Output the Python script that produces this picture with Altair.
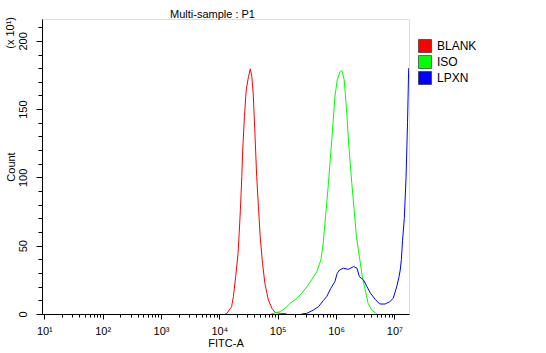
import altair as alt
import pandas as pd

# ---- data (x as log10 exponent of FITC-A, y as count /10) ----
series_names = ["BLANK", "ISO", "LPXN"]
series_colors = ["#ff0000", "#00ff00", "#0000ff"]

blank_exp = [4.10, 4.13, 4.21, 4.24, 4.28, 4.32, 4.34, 4.36, 4.385, 4.40, 4.43, 4.46, 4.50,
             4.53, 4.556, 4.58, 4.61, 4.64, 4.67, 4.70, 4.74, 4.78, 4.84, 4.90, 4.955, 5.04,
             5.13, 5.16]
blank_count = [0, 0.5, 5.4, 12.7, 27.4, 44.4, 59, 76, 100.6, 120, 144.5, 164, 174,
               179.5, 174, 161.7, 132, 100.6, 78.6, 56.6, 37, 22.5, 10.3, 4.2, 1.2, 0.5,
               0.3, 0]

iso_exp = [4.88, 4.95, 5.04, 5.13, 5.21, 5.33, 5.41, 5.50, 5.58, 5.67, 5.74, 5.78, 5.82,
           5.86, 5.90, 5.94, 5.98, 6.02, 6.07, 6.10, 6.14, 6.18, 6.22, 6.27, 6.31, 6.35,
           6.40, 6.45, 6.50, 6.55, 6.61, 6.70]
iso_count = [0, 0.8, 1.7, 4.2, 7.8, 11.5, 15.2, 20, 25, 31, 39.6, 51.8, 71.3,
             90.8, 112.8, 134.8, 159, 171.4, 177.5, 178.3, 171.4, 149.5, 122.6, 95.7, 76.2, 56.6,
             42, 27.3, 17.6, 7.8, 2.9, 0]

lpxn_exp = [5.41, 5.50, 5.61, 5.70, 5.78, 5.84, 5.91, 5.98, 6.02, 6.06, 6.125, 6.21, 6.30,
            6.36, 6.40, 6.47, 6.53, 6.59, 6.67, 6.75, 6.84, 6.92, 6.98, 7.04, 7.08, 7.10,
            7.12, 7.14, 7.17, 7.20, 7.225, 7.245]
lpxn_count = [0, 0.5, 2.9, 5.4, 9.8, 12.7, 18.8, 23.7, 29.8, 32.2, 33.5, 32.7, 34.7,
              33.5, 27.3, 25, 20, 15.2, 10.8, 7.3, 7.3, 9, 11.5, 20, 27.3, 32.2,
              40, 54, 70, 100, 140, 180]

x_major = [10, 100, 1000, 10000, 100000, 1000000, 10000000]
x_major_labels = ["10\u00b9", "10\u00b2", "10\u00b3", "10\u2074", "10\u2075", "10\u2076", "10\u2077"]
x_minor = [k * m for m in x_major[:-1] for k in range(2, 10)]
y_major = [0, 50, 100, 150, 200]
y_minor = list(range(0, 220, 10))

rows = []
for name, ex, ct in [("BLANK", blank_exp, blank_count), ("ISO", iso_exp, iso_count),
                     ("LPXN", lpxn_exp, lpxn_count)]:
    for e, c in zip(ex, ct):
        rows.append({"series": name, "fitc": 10 ** e, "count": c})
df = pd.DataFrame(rows)

FONT = "Liberation Sans"

x_label_expr = ""
for v, lab in zip(x_major, x_major_labels):
    x_label_expr += f"datum.value == {v} ? '{lab}' : "
x_label_expr += "''"
x_major_test = "indexof([" + ",".join(str(v) for v in x_major) + "], datum.value) >= 0"
y_major_test = "indexof([" + ",".join(str(v) for v in y_major) + "], datum.value) >= 0"

x_scale = alt.Scale(type="log", domain=[9.12, 17.8e6], nice=False)
y_scale = alt.Scale(domain=[0, 216], nice=False, zero=False)
color_scale = alt.Scale(domain=series_names, range=series_colors)

lines = alt.Chart(df).mark_line(strokeWidth=1, clip=True, interpolate="linear").encode(
    x=alt.X("fitc:Q", scale=x_scale,
            axis=alt.Axis(values=sorted(x_major + x_minor), labelExpr=x_label_expr,
                          tickSize=alt.condition(x_major_test, alt.value(5), alt.value(3)),
                          title="FITC-A", grid=False, labelPadding=6,
                          labelFontSize=11, titleFontSize=11, titlePadding=1,
                          labelFont=FONT, titleFont=FONT, titleFontWeight="normal",
                          labelColor="black", titleColor="black",
                          domainColor="black", tickColor="black", labelFlush=False,
                          labelOverlap=False)),
    y=alt.Y("count:Q", scale=y_scale,
            axis=alt.Axis(values=y_minor,
                          labelExpr=f"{y_major_test} ? datum.label : ''",
                          tickSize=alt.condition(y_major_test, alt.value(6), alt.value(4)),
                          title="Count", grid=False, labelAngle=270, labelAlign="center",
                          labelBaseline="bottom", labelPadding=8,
                          labelFontSize=11, titleFontSize=11, titleX=-31,
                          titleBaseline="middle",
                          labelFont=FONT, titleFont=FONT, titleFontWeight="normal",
                          labelColor="black", titleColor="black",
                          domainColor="black", tickColor="black", labelFlush=False,
                          labelOverlap=False)),
    color=alt.Color("series:N", scale=color_scale, legend=None),
)

legend_df = pd.DataFrame({"series": series_names})
legend_layer = alt.Chart(legend_df).mark_square(opacity=0).encode(
    color=alt.Color("series:N", scale=color_scale,
                    legend=alt.Legend(orient="none", legendX=376, legendY=20, title=None,
                                      symbolType="square", symbolSize=169, symbolOpacity=1,
                                      symbolStrokeColor="#202020", symbolStrokeWidth=0.6,
                                      labelFont=FONT, labelFontSize=12, labelColor="black",
                                      labelOffset=5, rowPadding=0, padding=0)),
)

exp_text = alt.Chart(legend_df.head(1)).mark_text(
    angle=270, align="right", baseline="middle", font=FONT, fontSize=11, color="black"
).encode(x=alt.value(-31), y=alt.value(-2), text=alt.value("(x 10\u00b9)"))

chart = alt.layer(lines, legend_layer, exp_text).resolve_legend(
    color="independent"
).properties(
    width=367, height=295,
    title=alt.TitleParams("Multi-sample : P1", anchor="start", dx=128, dy=15, frame="group",
                          baseline="alphabetic", offset=3, font=FONT, fontSize=11,
                          fontWeight="normal", color="black"),
    autosize=alt.AutoSizeParams(type="none"),
    padding={"left": 42, "top": 19, "right": 137, "bottom": 39},
).configure_view(stroke="black", strokeWidth=1).configure(background="white")

chart.save("out.html", embed_options={"renderer": "svg", "actions": False})
